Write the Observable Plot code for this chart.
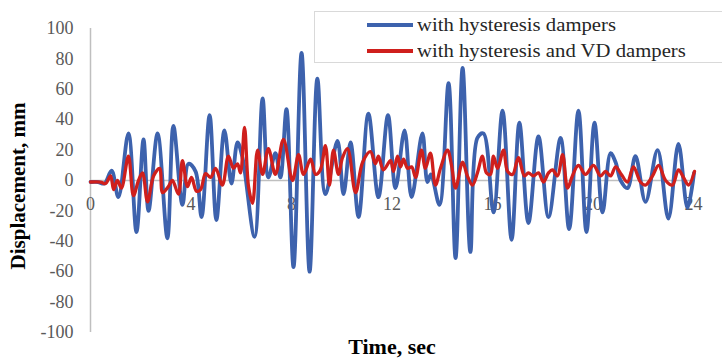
<!DOCTYPE html>
<html>
<head>
<meta charset="utf-8">
<script src="https://cdn.jsdelivr.net/npm/d3@7"></script>
<script src="https://cdn.jsdelivr.net/npm/@observablehq/plot@0.6"></script>
<style>
  html, body { margin: 0; padding: 0; background: #fff; }
  #wrap { position: relative; width: 722px; height: 359px; overflow: hidden; font-family: "Liberation Serif", "Times New Roman", serif; }
  #chart { position: absolute; left: 0; top: 0; }
  #chart svg, #chart svg text { font-family: "Liberation Serif", "Times New Roman", serif !important; }
  .ytitle { position: absolute; left: 18px; top: 186px; transform: translate(-50%, -50%) rotate(-90deg); font-weight: bold; font-size: 21px; color: #000; white-space: nowrap; }
  .xtitle { position: absolute; left: 392px; top: 347px; transform: translate(-50%, -50%) scaleX(1.1); font-weight: bold; font-size: 20px; color: #000; white-space: nowrap; }
  .legend { position: absolute; left: 314px; top: 11px; width: 440px; height: 50px; border: 1px solid #d9d9d9; background: #fff; }
  .row { position: absolute; left: 52px; height: 20px; display: flex; align-items: center; font-size: 19px; color: #262626; white-space: nowrap; }
  .row span { display: inline-block; transform-origin: left center; transform: scaleX(1.09); }
  .sw { width: 46px; height: 4px; margin-right: 4px; }
</style>
</head>
<body>
<div id="wrap">
  <div id="chart"></div>
  <div class="legend">
    <div class="row" style="top:3px"><div class="sw" style="background:#3d62ad"></div><span>with hysteresis dampers</span></div>
    <div class="row" style="top:29px"><div class="sw" style="background:#cf1f1c"></div><span>with hysteresis and VD dampers</span></div>
  </div>
  <div class="ytitle">Displacement, mm</div>
  <div class="xtitle">Time, sec</div>
</div>
<script>
const seriesNames = ["with hysteresis dampers", "with hysteresis and VD dampers"];
const xTicks = [0, 4, 8, 12, 16, 20, 24];
const yTicks = [-100, -80, -60, -40, -20, 0, 20, 40, 60, 80, 100];

const blueT = [0, 0.3, 0.55, 0.84, 1.11, 1.51, 1.83, 2.11, 2.31, 2.67, 3.06, 3.3, 3.66, 3.9, 4.18, 4.42, 4.74, 5.01, 5.33, 5.61, 5.85, 6.05, 6.53, 6.85, 7.08, 7.36, 7.56, 7.8, 8.08, 8.4, 8.72, 9.03, 9.35, 9.83, 10.07, 10.35, 10.67, 11.06, 11.46, 11.84, 12.14, 12.5, 12.78, 13.21, 13.41, 13.55, 13.89, 14.25, 14.53, 14.81, 15.12, 15.4, 15.64, 16.04, 16.4, 16.76, 17.07, 17.43, 17.83, 18.23, 18.71, 19.05, 19.42, 19.74, 20.06, 20.38, 20.7, 20.9, 21.1, 21.37, 21.69, 22.09, 22.57, 23.0, 23.4, 23.76, 24.02];
const blueV = [-1, -1, -2, 6.5, -11, 31, -34, 27, -20, 31, -38, 36, -16, 11, 6, -24, 43, -26, 33, -2, 25, 15, -37, 54, 2, 18, 2, 47, -57, 84, -60, 67, -9, 26, -9, 25, -24, 44, -11, 43, -5, 33, -11, 31, -1, 4, -16, 64, -51, 74, -47, 28, 31, -21, 46, -39, 38, -28, 29, -24, 28, -32, 46, -34, 38, -21, 18, 12, 0, -5, 16, -14, 20, -25, 24, -18, 5];

const redT = [0, 0.4, 0.6, 0.8, 0.92, 1.07, 1.23, 1.51, 1.71, 1.91, 2.07, 2.27, 2.51, 2.75, 2.87, 3.1, 3.26, 3.5, 3.66, 3.86, 4.02, 4.22, 4.38, 4.58, 4.78, 4.98, 5.25, 5.49, 5.69, 5.85, 5.97, 6.13, 6.29, 6.45, 6.65, 6.85, 7.08, 7.36, 7.68, 8.04, 8.28, 8.48, 8.76, 8.96, 9.15, 9.35, 9.51, 9.67, 9.87, 10.03, 10.23, 10.55, 10.83, 11.14, 11.34, 11.46, 11.66, 11.94, 12.06, 12.22, 12.34, 12.46, 12.62, 12.78, 12.94, 13.17, 13.33, 13.53, 13.73, 13.93, 14.21, 14.37, 14.53, 14.81, 15.0, 15.2, 15.4, 15.6, 15.76, 15.92, 16.04, 16.2, 16.44, 16.6, 16.8, 17.03, 17.27, 17.43, 17.63, 17.83, 18.03, 18.23, 18.39, 18.59, 18.79, 18.99, 19.18, 19.42, 19.7, 20.02, 20.3, 20.5, 20.7, 20.9, 21.13, 21.37, 21.61, 21.89, 22.09, 22.37, 22.61, 22.89, 23.16, 23.4, 23.6, 23.8, 24.04];
const redV = [-1, -1, -2, 3, -6, 0, -5, 16, -10, 0, 5, -14, 3, 8, -8, -4, 0, -9, 13, -4, 2, -7, -6, 4.5, 2, 8, -3, 16, 8, 11, 5, 35, -4, -15, 20, 4, 21, 4, 27, 0, 17, 4, 14, 4, 7, 23, -3, 20, 4, 15, 21, -8, 12, 19, 11, 16, 7, 13, 6, 16, 9, 14, 8, 9, 2, 20, 8, 18, -3, 8, 20, 10, -5, 12, 3, -3, 5, 16, 5, 4, 16, 8, 20, 6, 4, 15, 3, 5, 3, 5, -1, 5, 7, 3, 17, -5, 3, 10, 4, 10, 3, 6, 3, 9, 4, -1, 9, -1, -3, 3, 10, 0, -3, 7, 2, -3, 6];

const blue = blueT.map((t, i) => ({t, v: blueV[i]}));
const red = redT.map((t, i) => ({t, v: redV[i]}));

const serif = "Liberation Serif";

const plot = Plot.plot({
  width: 722,
  height: 359,
  marginLeft: 90,
  marginRight: 29,
  marginTop: 28,
  marginBottom: 27,
  style: { fontSize: "18px", background: "transparent", overflow: "visible" },
  x: { domain: [0, 24] },
  y: { domain: [-100, 100] },
  marks: [
    Plot.ruleY([0], { x1: 0, x2: 24.05, stroke: "#bfbfbf", strokeWidth: 1.5 }),
    Plot.ruleX([0], { y1: -100, y2: 100, stroke: "#bfbfbf", strokeWidth: 1.5 }),
    Plot.axisY({ ticks: yTicks, tickSize: 0, tickPadding: 17, label: null, fill: "#595959", fontSize: 18, fontFamily: serif, tickFormat: d => String(d) }),
    Plot.axisX({ ticks: [], tickSize: 0, label: null }),
    Plot.text(xTicks, { x: d => d, y: 0, dy: 24, text: d => String(d), fill: "#595959", fontSize: 18, fontFamily: serif }),
    Plot.line(blue, { x: "t", y: "v", stroke: "#3d62ad", strokeWidth: 3.8, curve: "catmull-rom" }),
    Plot.line(red, { x: "t", y: "v", stroke: "#cf1f1c", strokeWidth: 3.3, curve: "catmull-rom" })
  ]
});
document.getElementById("chart").appendChild(plot);
</script>
</body>
</html>
